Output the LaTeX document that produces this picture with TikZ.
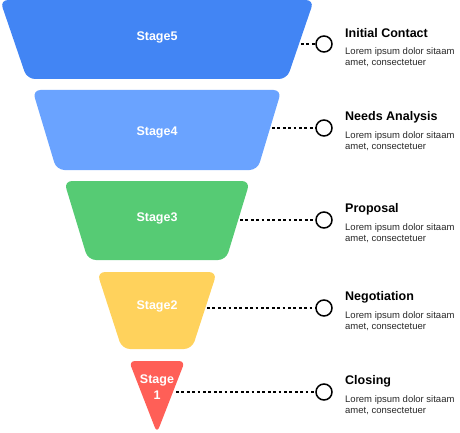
\documentclass[tikz,border=0pt]{standalone}
\usepackage{fontspec}
\setmainfont{Liberation Sans}
\definecolor{stagefive}{RGB}{66,133,244}
\definecolor{stagefour}{RGB}{106,163,255}
\definecolor{stagethree}{RGB}{86,203,116}
\definecolor{stagetwo}{RGB}{255,210,92}
\definecolor{stageone}{RGB}{255,95,87}
\definecolor{bodytext}{RGB}{40,40,40}
\begin{document}
\begin{tikzpicture}[x=1pt,y=-1pt,
    stage label/.style={text=white,font=\bfseries\fontsize{12.5}{16}\selectfont,align=center,inner sep=0pt},
    end dot/.style={circle,draw,line width=1.5pt,minimum size=16pt,inner sep=0pt,fill=white},
    dot line/.style={line width=2.7pt,dash pattern=on 2.7pt off 2.7pt},
    title text/.style={anchor=west,inner sep=0pt,font=\bfseries\fontsize{12.5}{15}\selectfont},
    body text/.style={anchor=west,inner sep=0pt,align=left,text=bodytext,font=\fontsize{9.5}{10.5}\selectfont}]

            \useasboundingbox (0,0) rectangle (460,433);

            % funnel
            \fill[stagefive, rounded corners=8pt] (157,0) -- (314,0) -- (287,79) -- (27,79) -- (0,0) -- cycle;
            \fill[stagefour, rounded corners=8pt] (157,90) -- (281.5,90) -- (257.5,170) -- (56.5,170) -- (32.5,90) -- cycle;
            \fill[stagethree, rounded corners=8pt] (157,181) -- (250,181) -- (226,260) -- (88,260) -- (64,181) -- cycle;
            \fill[stagetwo, rounded corners=8pt] (157,272) -- (217,272) -- (192,349) -- (122,349) -- (97,272) -- cycle;
            \fill[stageone, rounded corners=6pt] (157,361) -- (185,361) -- (157,433) -- (129,361) -- cycle;

            \node[stage label] (s5) at (157,37) {Stage5};
            \node[stage label] (s4) at (157,132) {Stage4};
            \node[stage label] (s3) at (157,218) {Stage3};
            \node[stage label] (s2) at (157,306) {Stage2};
            \node[stage label] (s1) at (157,387) {Stage\\1};

            % edge points
            \coordinate (e5) at (301,44);
            \coordinate (e4) at (272,128);
            \coordinate (e3) at (240,220);
            \coordinate (e2) at (207,308);
            \coordinate (e1) at (176,392);

            \node[end dot] (c5) at (324,44) {};
            \node[end dot] (c4) at (324,128) {};
            \node[end dot] (c3) at (324,220) {};
            \node[end dot] (c2) at (324,308) {};
            \node[end dot] (c1) at (324,392) {};

            \draw[dot line] (e5) -- (c5);
            \draw[dot line] (e4) -- (c4);
            \draw[dot line] (e3) -- (c3);
            \draw[dot line] (e2) -- (c2);
            \draw[dot line] (e1) -- (c1);

            % texts
            \node[title text] (t5) at (345,33) {Initial Contact};
            \node[body text] (b5) at (345,57) {Lorem ipsum dolor sitaam\\amet, consectetuer};
            \node[title text] (t4) at (345,117) {Needs Analysis};
            \node[body text] (b4) at (345,141) {Lorem ipsum dolor sitaam\\amet, consectetuer};
            \node[title text] (t3) at (345,209) {Proposal};
            \node[body text] (b3) at (345,233) {Lorem ipsum dolor sitaam\\amet, consectetuer};
            \node[title text] (t2) at (345,297) {Negotiation};
            \node[body text] (b2) at (345,321) {Lorem ipsum dolor sitaam\\amet, consectetuer};
            \node[title text] (t1) at (345,381) {Closing};
            \node[body text] (b1) at (345,405) {Lorem ipsum dolor sitaam\\amet, consectetuer};

            ;
        \end{tikzpicture}
\end{document}
